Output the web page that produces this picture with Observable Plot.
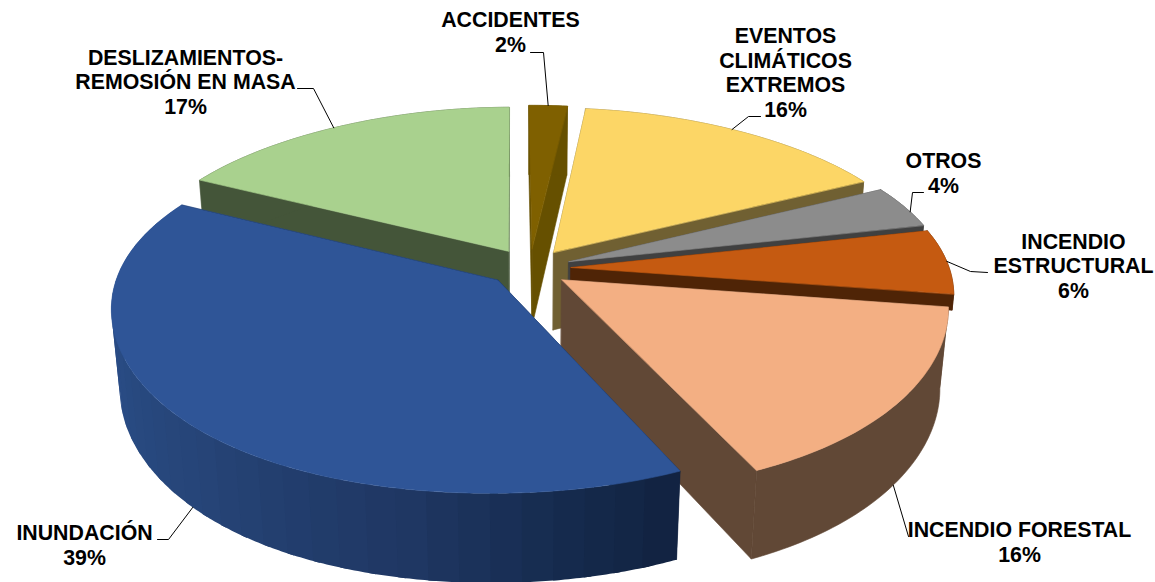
<!DOCTYPE html>
<html lang="es">
<head>
<meta charset="utf-8">
<title>Distribución de eventos</title>
<script src="https://cdn.jsdelivr.net/npm/d3@7"></script>
<script src="https://cdn.jsdelivr.net/npm/@observablehq/plot@0.6"></script>
<style>
  html, body { margin: 0; padding: 0; background: #fff; }
  svg { display: block; }
</style>
</head>
<body>
<div id="chart"></div>
<script>
// Chart values, clockwise from twelve o'clock
const categories = ["ACCIDENTES", "EVENTOS CLIMÁTICOS EXTREMOS", "OTROS", "INCENDIO ESTRUCTURAL", "INCENDIO FORESTAL", "INUNDACIÓN", "DESLIZAMIENTOS-REMOSIÓN EN MASA"];
const shares = [2, 16, 4, 6, 16, 39, 17];
const labelLines = [
  ["ACCIDENTES"],
  ["EVENTOS", "CLIMÁTICOS", "EXTREMOS"],
  ["OTROS"],
  ["INCENDIO", "ESTRUCTURAL"],
  ["INCENDIO FORESTAL"],
  ["INUNDACIÓN"],
  ["DESLIZAMIENTOS-", "REMOSIÓN EN MASA"]
];

// Styling per slice: top face and side wall
const topColors = ["#7f6000", "#fcd666", "#8c8c8c", "#c55a11", "#f3af83", "#2f5597", "#a9d18e"];
const sideColors = ["#665000", "#706032", "#404040", "#4f2406", "#614836", null, "#445539"];
const floodWall = d3.scaleLinear()
  .domain([158, 172, 192, 225, 270, 300])
  .range(["#112240", "#152a4d", "#1f3763", "#264578", "#2b4f8b", "#2b4f8b"]);
// Wall height per slice; the thin eastern slice only ever shows a strip above its neighbour
const wallDepth = [1, 1, 1, 0.2, 1, 1, 1];

// Label placement: block centre, leader elbow and end, and where on the rim the leader lands
const labelLayout = [
  {cx: 510, cy: 31, anchorAt: 3.6, wall: 0, leader: [[543, 52], [530, 52]]},
  {cx: 785, cy: 71.5, anchorAt: 35, wall: 0, leader: [[748, 116], [760, 116]]},
  {cx: 943, cy: 172, anchorAt: 74, wall: 0, leader: [[912, 192], [923, 192]]},
  {cx: 1073, cy: 265, anchorAt: 90, wall: 0, leader: [[970, 271], [987, 272]]},
  {cx: 1019, cy: 541, anchorAt: 130, wall: 1, leader: [[908, 536]]},
  {cx: 84, cy: 544, anchorAt: 228, wall: 1, leader: [[168, 539], [157, 539]]},
  {cx: 185, cy: 81, anchorAt: 328, wall: 0, leader: [[313, 88], [297, 88]]}
];

// Perspective used for the disc; each slice is pushed out from the common centre
const view = {cx: 529, cy: 267, A: 378, B: 173, C: 80, ky: 0.166, m: 0.02, explode: 0.11};

function project(X, Y, Z) {
  const wx = 1 + 0.14 * Y + 0.04 * Y * Y * Y + view.m * Z;
  const wy = 1 + view.ky * Y + view.m * Z;
  return [view.cx + view.A * X / wx, view.cy + (-view.B * Y + view.C * Z) / wy];
}

const rad = (deg) => deg * Math.PI / 180;
// Slight angular foreshortening of the tilted disc
const foreshorten = (deg) => deg - 0.5 - 2.2 * Math.sin(rad(deg / 2));

let running = 0;
const slices = shares.map((share, i) => {
  const start = running * 3.6;
  running += share;
  const end = running * 3.6;
  const mid = (start + end) / 2;
  return {i, start, end, mid, ox: view.explode * Math.sin(rad(mid)), oy: view.explode * Math.cos(rad(mid))};
});

const rim = (s, deg, Z) => {
  const a = rad(foreshorten(deg));
  return project(s.ox + Math.sin(a), s.oy + Math.cos(a), Z);
};
const hub = (s, Z) => project(s.ox, s.oy, Z);

function arcDegrees(from, to, step) {
  const n = Math.max(1, Math.ceil((to - from) / step));
  return d3.range(n + 1).map((j) => from + (to - from) * j / n);
}

// Faces go into one table, one id per polygon, painted back to front
const faces = [];
let faceId = 0;
function addFace(points, color, stroke = color) {
  const id = faceId++;
  for (const [x, y] of points) faces.push({id, x, y, color, stroke});
}

const paintOrder = [0, 1, 6, 2, 3, 4, 5];
for (const i of paintOrder) {
  const s = slices[i];
  const degs = arcDegrees(s.start, s.end, 1);
  const solidWall = sideColors[i];
  const depth = wallDepth[i];
  // radial walls
  for (const deg of [s.start, s.end]) {
    addFace([hub(s, 0), rim(s, deg, 0), rim(s, deg, depth), hub(s, depth)], solidWall ?? floodWall(s.start));
  }
  // outer wall: one piece when solid, overlapping bands when shaded
  if (solidWall) {
    addFace([...degs.map((d) => rim(s, d, 0)), ...degs.slice().reverse().map((d) => rim(s, d, depth))], solidWall);
  } else {
    const bands = arcDegrees(s.start, s.end, 4);
    for (let j = bands.length - 2; j >= 0; j--) {
      const a = bands[j], b = bands[j + 1];
      const span = arcDegrees(a, Math.min(b + 1, s.end), 0.5);
      addFace([...span.map((d) => rim(s, d, 0)), ...span.slice().reverse().map((d) => rim(s, d, depth))], floodWall((a + b) / 2), "none");
    }
  }
  // top face
  addFace([hub(s, 0), ...degs.map((d) => rim(s, d, 0))], topColors[i]);
}

// Leader lines start on the slice they belong to
const leaders = labelLayout.flatMap((l, i) => {
  const start = rim(slices[i], l.anchorAt, l.wall);
  return [start, ...l.leader].map(([x, y]) => ({i, x, y}));
});

const labels = labelLayout.map((l, i) => ({
  x: l.cx,
  y: l.cy,
  text: [...labelLines[i], `${shares[i]}%`].join("\n"),
  name: categories[i]
}));

const chart = Plot.plot({
  width: 1155,
  height: 582,
  margin: 0,
  x: {axis: null, domain: [0, 1155], range: [0, 1155]},
  y: {axis: null, domain: [0, 582], range: [0, 582]},
  color: {type: "identity"},
  marks: [
    Plot.line(faces, {x: "x", y: "y", z: "id", fill: "color", stroke: "stroke", strokeWidth: 0.6, curve: "linear-closed"}),
    Plot.line(leaders, {x: "x", y: "y", z: "i", stroke: "#000", strokeWidth: 1}),
    Plot.text(labels, {
      x: "x", y: "y", text: "text",
      fontFamily: "'Liberation Sans', Arial, sans-serif",
      fontWeight: "bold",
      fontSize: 21.33,
      lineHeight: 1.15,
      textAnchor: "middle",
      lineAnchor: "middle",
      fill: "#000"
    })
  ]
});
document.getElementById("chart").append(chart);
</script>
</body>
</html>
